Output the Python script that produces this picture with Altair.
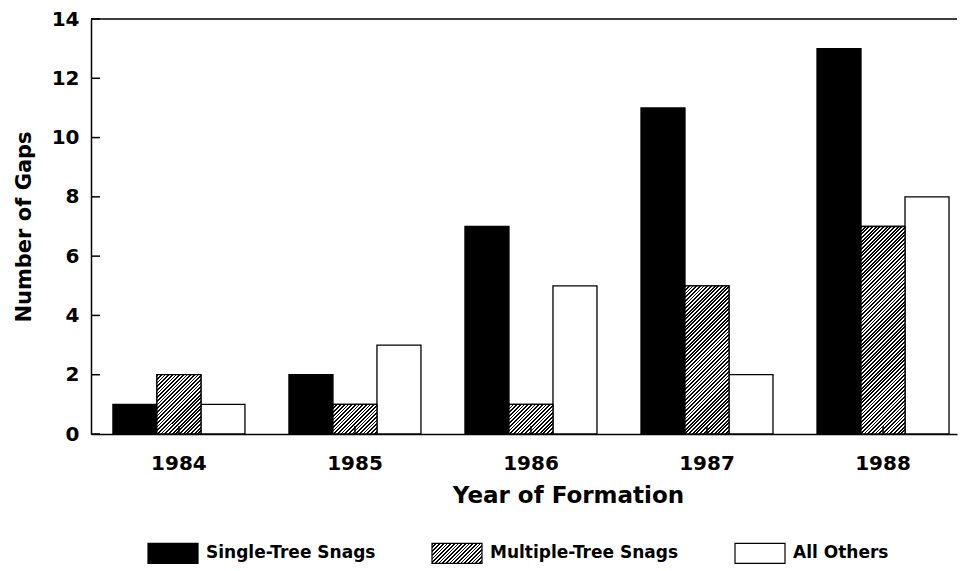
import json
import math

import altair as alt
import pandas as pd

# ---------------- data ----------------
years = ["1984", "1985", "1986", "1987", "1988"]
series = ["Single-Tree Snags", "Multiple-Tree Snags", "All Others"]
single_tree = [1, 2, 7, 11, 13]
multiple_tree = [2, 1, 1, 5, 7]
all_others = [1, 3, 5, 2, 8]
y_ticks = [0, 2, 4, 6, 8, 10, 12, 14]

rows = []
for i, yr in enumerate(years):
    rows.append({"year": yr, "series": series[0], "gaps": single_tree[i]})
    rows.append({"year": yr, "series": series[1], "gaps": multiple_tree[i]})
    rows.append({"year": yr, "series": series[2], "gaps": all_others[i]})
df = pd.DataFrame(rows)

# ---------------- style ----------------
W, H = 866, 415
YMAX = 14
BAR_W = 44.0
FONT = "DejaVu Sans"


def hatch(w, h, period=2.6, dark=0.5):
    """45-degree '/' hatch as a linear gradient with hard stops."""
    k = (w + h) / (w * w + h * h)
    span = (w + h) / math.sqrt(2)
    p = period / span
    stops = []
    o = 0.0
    while o < 1:
        a = min(o + p * dark, 1.0)
        b = min(o + p, 1.0)
        stops += [
            {"offset": round(o, 5), "color": "black"},
            {"offset": round(a, 5), "color": "black"},
            {"offset": round(a, 5), "color": "white"},
            {"offset": round(b, 5), "color": "white"},
        ]
        o += p
    return {"gradient": "linear", "x1": 0, "y1": 0,
            "x2": round(w * k, 5), "y2": round(h * k, 5), "stops": stops}


legend_hatch = {"expr": json.dumps(hatch(50, 20))}

x_enc = alt.X(
    "year:N",
    title="Year of Formation",
    scale=alt.Scale(paddingInner=0.25, paddingOuter=0.085, align=0.733),
    axis=alt.Axis(labelAngle=0, ticks=False, grid=False, labelPadding=19,
                  titlePadding=11, titleFontSize=23, titleX=477),
)
y_enc = alt.Y(
    "gaps:Q",
    title="Number of Gaps",
    scale=alt.Scale(domain=[0, YMAX], nice=False),
    axis=alt.Axis(values=y_ticks, ticks=False, grid=False, labelPadding=12,
                  titlePadding=17),
)
xoff_enc = alt.XOffset("series:N", scale=alt.Scale(domain=series, paddingInner=0,
                                                   paddingOuter=0))

base = alt.Chart(df).encode(x=x_enc, y=y_enc, xOffset=xoff_enc)

bars = base.mark_bar(stroke="black", strokeWidth=1.3).encode(
    fill=alt.Fill(
        "series:N",
        scale=alt.Scale(domain=series, range=["black", legend_hatch, "white"]),
        legend=alt.Legend(
            orient="none", legendX=71, legendY=523, direction="horizontal",
            columns=3, title=None, padding=0,
            symbolType="M-2.5,-1H2.5V1H-2.5Z", symbolSize=400,
            symbolStrokeColor="black", symbolStrokeWidth=1.2, symbolOpacity=1,
            labelFont=FONT, labelFontSize=17, labelFontWeight="bold",
            labelColor="black", labelOffset=22, labelLimit=500,
            columnPadding=53,
        ),
    )
)

layers = [bars]
for i, yr in enumerate(years):
    h = multiple_tree[i] * H / YMAX
    layers.append(
        base.transform_filter(
            f"datum.series == '{series[1]}' && datum.year == '{yr}'"
        ).mark_bar(fill=hatch(BAR_W, h), stroke="black", strokeWidth=1.3)
    )

# inward y ticks
ytick_layer = alt.Chart(pd.DataFrame({"gaps": y_ticks})).mark_rule(
    color="black", strokeWidth=1.5
).encode(y=alt.Y("gaps:Q", title="Number of Gaps"), x=alt.value(0), x2=alt.value(9))

# inward x ticks at group centres
xtick_layer = alt.Chart(pd.DataFrame({"year": years})).mark_rule(
    color="black", strokeWidth=1.5
).encode(x=alt.X("year:N", title="Year of Formation"), y=alt.value(H), y2=alt.value(H - 8))

# top frame line
top_line = alt.Chart(pd.DataFrame({"gaps": [YMAX]})).mark_rule(
    color="black", strokeWidth=1.5
).encode(y=alt.Y("gaps:Q", title="Number of Gaps"))

chart = (
    alt.layer(*layers, ytick_layer, xtick_layer, top_line)
    .properties(width=W, height=H, padding={"left": 5, "top": 1, "right": 0, "bottom": 0})
    .configure_view(stroke=None)
    .configure_axis(
        domainColor="black", domainWidth=1.5,
        labelFont=FONT, labelFontSize=20, labelFontWeight="bold", labelColor="black",
        titleFont=FONT, titleFontSize=21, titleFontWeight="bold", titleColor="black",
    )
)

chart.save("out.html", embed_options={"renderer": "svg", "actions": False})
